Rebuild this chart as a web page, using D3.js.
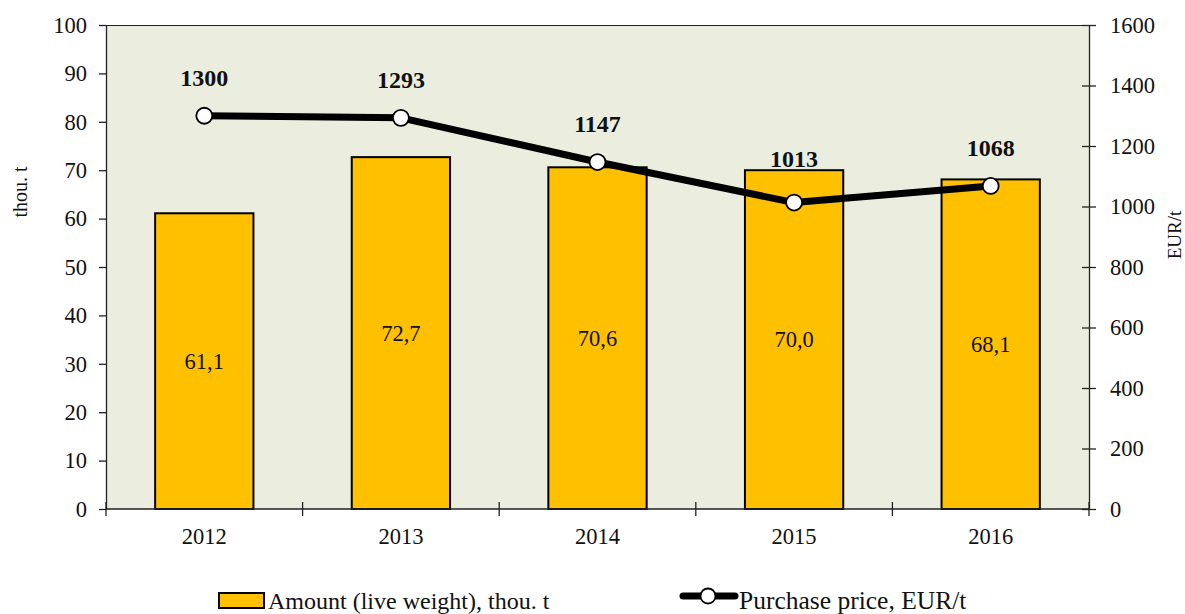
<!DOCTYPE html>
<html>
<head>
<meta charset="utf-8">
<script src="https://cdn.jsdelivr.net/npm/d3@7"></script>
<style>
  html, body { margin: 0; padding: 0; background: #ffffff; }
  svg { display: block; font-family: "Liberation Serif", "Times New Roman", serif; }
</style>
</head>
<body>
<svg id="chart" width="1185" height="614"></svg>
<script>
// Slaughter amount and purchase price by year
const years = ["2012", "2013", "2014", "2015", "2016"];
const amount = [61.1, 72.7, 70.6, 70.0, 68.1];          // thou. t
const price = [1300, 1293, 1147, 1013, 1068];           // EUR/t
const leftTicks = [0, 10, 20, 30, 40, 50, 60, 70, 80, 90, 100];
const rightTicks = [0, 200, 400, 600, 800, 1000, 1200, 1400, 1600];
const seriesNames = ["Amount (live weight), thou. t", "Purchase price, EUR/t"];

const svg = d3.select("#chart");
const m = { left: 106, right: 1089, top: 25, bottom: 509 };

const x = d3.scaleBand().domain(years).range([m.left, m.right]).paddingInner(0).paddingOuter(0);
const yL = d3.scaleLinear().domain([0, 100]).range([m.bottom, m.top]);
const yR = d3.scaleLinear().domain([0, 1600]).range([m.bottom, m.top]);
const fmt = v => v.toFixed(1).replace(".", ",");

// plot background
svg.append("rect")
  .attr("x", m.left).attr("y", m.top)
  .attr("width", m.right - m.left).attr("height", m.bottom - m.top)
  .attr("fill", "#ebeedf");
svg.append("line")
  .attr("x1", m.left).attr("x2", m.right).attr("y1", m.top + 0.5).attr("y2", m.top + 0.5)
  .attr("stroke", "#222").attr("stroke-width", 1);

// bars
const barW = x.bandwidth() * 0.5;
svg.append("g").selectAll("rect").data(years).join("rect")
  .attr("x", d => x(d) + (x.bandwidth() - barW) / 2)
  .attr("y", (d, i) => yL(amount[i]))
  .attr("width", barW)
  .attr("height", (d, i) => yL(0) - yL(amount[i]))
  .attr("fill", "#ffc000")
  .attr("stroke", "#000").attr("stroke-width", 2);

// bar value labels
svg.append("g").selectAll("text").data(years).join("text")
  .attr("x", d => x(d) + x.bandwidth() / 2)
  .attr("y", (d, i) => (yL(amount[i]) + yL(0)) / 2)
  .attr("dy", "0.35em")
  .attr("text-anchor", "middle")
  .attr("font-size", 22.5)
  .attr("fill", "#111")
  .text((d, i) => fmt(amount[i]));

// axes
const axisStyle = g => {
  g.selectAll("path, line").attr("stroke", "#222").attr("stroke-width", 1.3);
  g.selectAll("text").attr("font-size", 22.5).attr("fill", "#111")
    .attr("font-family", "Liberation Serif, serif");
};

svg.append("g")
  .attr("transform", `translate(${m.left},0)`)
  .call(d3.axisLeft(yL).tickValues(leftTicks).tickSize(7).tickSizeOuter(0).tickPadding(12))
  .call(axisStyle);

const rightAxis = svg.append("g")
  .attr("transform", `translate(${m.right},0)`)
  .call(d3.axisRight(yR).tickValues(rightTicks).tickFormat(d3.format("d"))
    .tickSize(7).tickSizeOuter(0).tickPadding(14))
  .call(axisStyle);
rightAxis.selectAll(".tick line").attr("x1", -7);

const bounds = d3.range(years.length + 1).map(i => m.left + i * x.bandwidth());
const bottomAxis = svg.append("g")
  .attr("transform", `translate(0,${m.bottom})`)
  .call(d3.axisBottom(x).tickSize(0).tickPadding(19))
  .call(axisStyle);
bottomAxis.select(".domain").attr("d", `M${m.left},0H${m.right}`);
bottomAxis.selectAll("line.bound").data(bounds).join("line")
  .attr("class", "bound")
  .attr("x1", d => d).attr("x2", d => d)
  .attr("y1", -7).attr("y2", 7)
  .attr("stroke", "#222").attr("stroke-width", 1.3);

// axis titles
svg.append("text")
  .attr("transform", "translate(27,192) rotate(-90)")
  .attr("text-anchor", "middle")
  .attr("font-size", 20).attr("fill", "#111")
  .text("thou. t");
svg.append("text")
  .attr("transform", "translate(1181,235) rotate(-90)")
  .attr("text-anchor", "middle")
  .attr("font-size", 19).attr("fill", "#111")
  .text("EUR/t");

// price line
const cx = d => x(d) + x.bandwidth() / 2;
const line = d3.line().x(d => cx(d)).y((d, i) => yR(price[i]));
svg.append("path")
  .datum(years)
  .attr("d", line)
  .attr("fill", "none")
  .attr("stroke", "#000").attr("stroke-width", 7)
  .attr("stroke-linejoin", "round");
svg.append("g").selectAll("circle").data(years).join("circle")
  .attr("cx", cx)
  .attr("cy", (d, i) => yR(price[i]))
  .attr("r", 8)
  .attr("fill", "#fff")
  .attr("stroke", "#000").attr("stroke-width", 1.8);

// price labels, kept clear of the bar tops
svg.append("g").selectAll("text").data(years).join("text")
  .attr("x", cx)
  .attr("y", (d, i) => Math.min(yR(price[i]) - 30, yL(amount[i]) - 3))
  .attr("text-anchor", "middle")
  .attr("font-size", 24).attr("font-weight", "bold")
  .attr("fill", "#111")
  .text((d, i) => price[i]);

// legend
const lg = svg.append("g");
lg.append("rect")
  .attr("x", 219).attr("y", 593).attr("width", 45).attr("height", 15)
  .attr("fill", "#ffc000").attr("stroke", "#000").attr("stroke-width", 2);
lg.append("text")
  .attr("x", 268).attr("y", 609)
  .attr("font-size", 24).attr("fill", "#111")
  .text(seriesNames[0]);
lg.append("line")
  .attr("x1", 683).attr("x2", 735).attr("y1", 596).attr("y2", 596)
  .attr("stroke", "#000").attr("stroke-width", 7).attr("stroke-linecap", "round");
lg.append("circle")
  .attr("cx", 708).attr("cy", 596).attr("r", 7.5)
  .attr("fill", "#fff").attr("stroke", "#000").attr("stroke-width", 1.8);
lg.append("text")
  .attr("x", 739).attr("y", 609)
  .attr("font-size", 25.5).attr("fill", "#111")
  .text(seriesNames[1]);
</script>
</body>
</html>
